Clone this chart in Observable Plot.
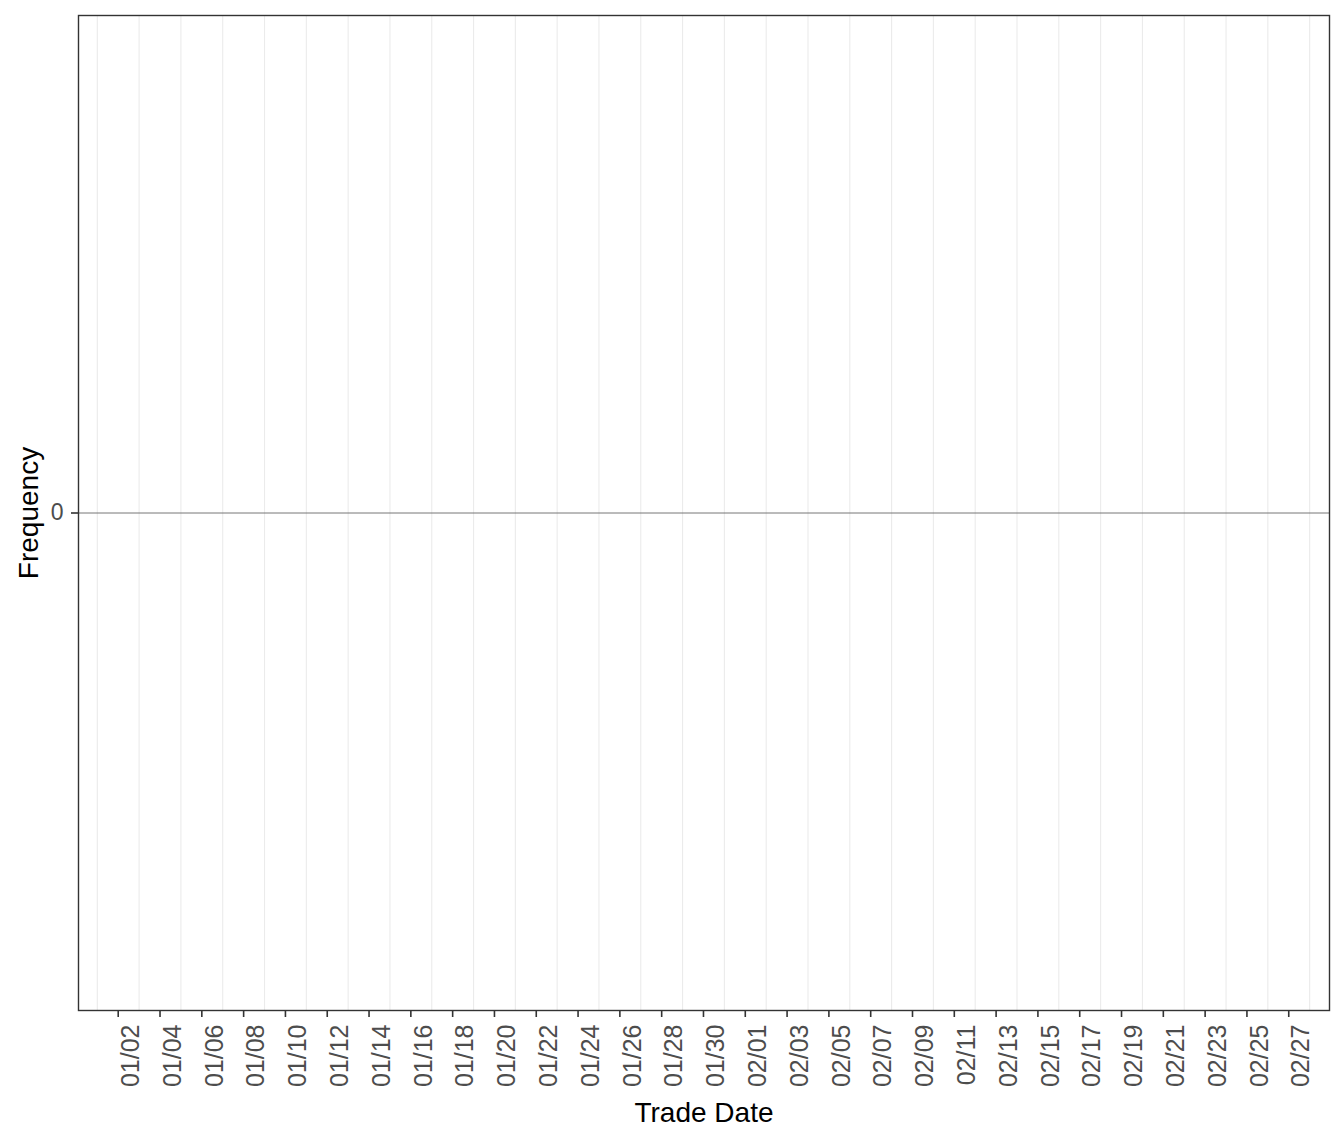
<!DOCTYPE html>
<html>
<head>
<meta charset="utf-8">
<script src="https://cdn.jsdelivr.net/npm/d3@7"></script>
<script src="https://cdn.jsdelivr.net/npm/@observablehq/plot@0.6"></script>
<style>
  html, body { margin: 0; padding: 0; background: #ffffff; }
  #chart svg { display: block; }
</style>
</head>
<body>
<div id="chart"></div>
<script>
// ---- data (the chart has no observations) ----
const tradeDates = [];          // trade dates with observations
const frequencies = [];         // frequency per trade date
const xTickLabels = ["01/02","01/04","01/06","01/08","01/10","01/12","01/14","01/16","01/18","01/20","01/22","01/24","01/26","01/28","01/30","02/01","02/03","02/05","02/07","02/09","02/11","02/13","02/15","02/17","02/19","02/21","02/23","02/25","02/27"];
const xMinorGrid = ["01/01","01/03","01/05","01/07","01/09","01/11","01/13","01/15","01/17","01/19","01/21","01/23","01/25","01/27","01/29","01/31","02/02","02/04","02/06","02/08","02/10","02/12","02/14","02/16","02/18","02/20","02/22","02/24","02/26","02/28"];
const yTicks = [0];
const yDomain = [-1, 1];

const YEAR = 2019;
const DAY = 86400000;
const parseMD = s => { const [m, d] = s.split("/").map(Number); return new Date(Date.UTC(YEAR, m - 1, d)); };
const tickDates = xTickLabels.map(parseMD);
const gridDates = xMinorGrid.map(parseMD);
const xDomain = [new Date(+parseMD("01/02") - 1.9 * DAY), new Date(+parseMD("02/27") + 1.95 * DAY)];
const fmt = d3.utcFormat("%m/%d");
const data = tradeDates.map((d, i) => ({date: parseMD(d), freq: frequencies[i]}));

const FONT = "'Liberation Sans', Arial, Helvetica, sans-serif";

const chart = Plot.plot({
  width: 1344,
  height: 1142,
  marginLeft: 78,
  marginRight: 15,
  marginTop: 15,
  marginBottom: 132,
  style: { fontFamily: FONT, background: "#ffffff", overflow: "visible" },
  x: { type: "utc", domain: xDomain, axis: null },
  y: { domain: yDomain, axis: null },
  marks: [
    Plot.ruleX(gridDates, { x: d => d, stroke: "#EBEBEB", strokeWidth: 1.1 }),
    Plot.ruleY(yTicks, { y: d => d, stroke: "#666666", strokeWidth: 0.9 }),
    Plot.rectY(data, { x: "date", y: "freq", interval: d3.utcDay, fill: "#595959" }),
    Plot.frame({ stroke: "#333333", strokeWidth: 1.4 }),
    Plot.axisX({ ticks: tickDates, tickSize: 7, tickFormat: () => "", stroke: "#333333", strokeWidth: 1.6, label: null }),
    Plot.text(tickDates, {
      x: d => d, frameAnchor: "bottom", text: d => fmt(d),
      rotate: -90, textAnchor: "end", lineAnchor: "top",
      dx: 3, dy: 14, fontSize: 25, fill: "#4D4D4D"
    }),
    Plot.axisY({ ticks: yTicks, tickSize: 7, tickPadding: 8, tickFormat: d => String(d), stroke: "#333333", strokeWidth: 1.6, fontSize: 23, color: "#4D4D4D", label: null }),
    Plot.text(["Trade Date"], { frameAnchor: "bottom", dy: 111, textAnchor: "middle", lineAnchor: "bottom", fontSize: 28, fill: "#000000" }),
    Plot.text(["Frequency"], { frameAnchor: "left", dx: -41, rotate: -90, textAnchor: "middle", lineAnchor: "bottom", fontSize: 28, fill: "#000000" })
  ]
});
document.getElementById("chart").appendChild(chart);
</script>
</body>
</html>
